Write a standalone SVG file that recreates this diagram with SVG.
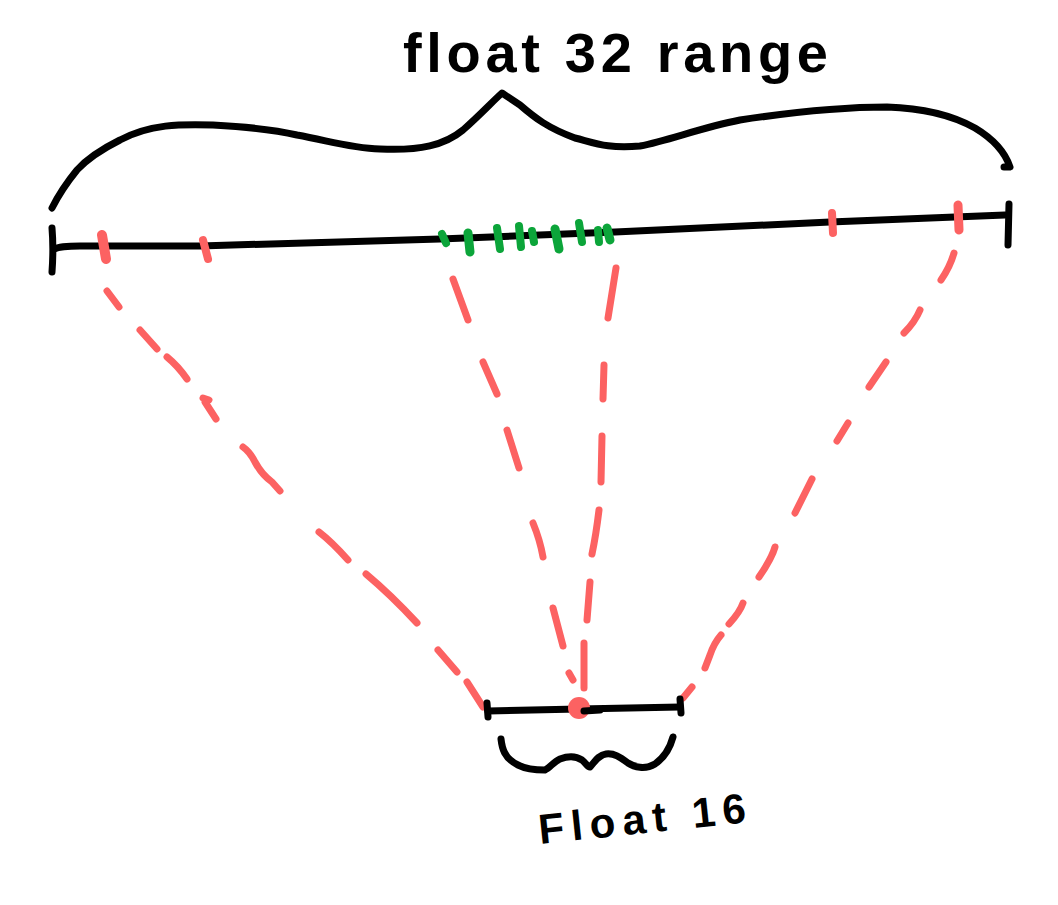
<svg xmlns="http://www.w3.org/2000/svg" width="1058" height="905" viewBox="0 0 1058 905">
<style>
.ink{fill:none;stroke:#000;stroke-width:7;stroke-linecap:round;stroke-linejoin:round}
.red{fill:none;stroke:#fc6262;stroke-width:7;stroke-linecap:round;stroke-linejoin:round}
.redtick{fill:none;stroke:#fc6262;stroke-width:10;stroke-linecap:round}
.grn{fill:none;stroke:#0ca53a;stroke-width:8;stroke-linecap:round}
.lbl{font-family:"Liberation Sans",Arial,sans-serif;font-weight:bold;fill:#000}
</style>
<rect width="1058" height="905" fill="#fff"/>

<g id="title">
<text class="lbl" x="403" y="72" font-size="56" textLength="425" lengthAdjust="spacing">float 32 range</text>
</g>

<g id="top-brace">
<path class="ink" d="M52,208 C58,196 64,186 77,170 C88,158 100,150 120,140 C150,124 180,124 213,125 C250,127 280,131 297,135 C330,141 350,148 380,149 C420,151 445,145 463,130 C480,115 492,102 502,93 L520,105 C535,118 548,128 575,138 C595,143 608,149 640,146 C670,140 700,128 740,120 C780,114 840,107 887,107 C920,108 950,114 975,128 C995,140 1005,152 1010,167 L1004,167"/>
</g>

<g id="main-line">
<path class="ink" d="M52,228 C53,240 53,258 52,272"/>
<path class="ink" d="M54,249 C60,246 70,246 80,246 L200,246 L440,239 L615,232 L830,222 L1005,215"/>
<path class="ink" d="M1009,204 L1008,245"/>
</g>

<g id="red-ticks">
<path class="redtick" d="M102,235 L106,259"/>
<path class="redtick" d="M203,240 L208,259" style="stroke-width:8"/>
<path class="redtick" d="M832,213 L833,233" style="stroke-width:8"/>
<path class="redtick" d="M958,205 L959,230" style="stroke-width:9"/>
</g>

<g id="green-ticks">
<path class="grn" d="M442,234 L446,243"/>
<path class="grn" d="M468,233 L470,252" style="stroke-width:9"/>
<path class="grn" d="M497,228 L500,249"/>
<path class="grn" d="M519,226 L521,247"/>
<path class="grn" d="M532,231 L534,242"/>
<path class="grn" d="M555,229 L559,249" style="stroke-width:9"/>
<path class="grn" d="M579,223 L582,242"/>
<path class="grn" d="M598,230 L599,242"/>
<path class="grn" d="M607,228 L610,240" style="stroke-width:9"/>
</g>

<g id="connectors">
<path class="red" d="M107,291 L119,307 M140,330 L157,349 M167,357 Q178,366 187,379 M203,398 L209,400 M205,402 L216,419 M243,447 Q250,452 255,462 Q262,475 272,482 L280,491 M319,532 Q332,542 348,560 M366,574 Q390,594 417,623 M438,650 L457,672 M467,682 L483,707"/>
<path class="red" d="M453,279 L468,320 M483,362 L497,394 M507,430 L519,468 M533,523 Q540,540 543,557 M553,608 L563,646 M569,673 L573,680"/>
<path class="red" d="M616,268 L608,318 M604,365 L603,399 M602,436 L601,482 M599,510 Q596,535 592,554 M590,582 L587,620 M584,643 L584,688"/>
<path class="red" d="M954,253 Q950,267 941,280 M920,310 Q915,322 904,333 M886,362 L869,387 M848,423 L837,441 M812,479 L795,513 M775,547 Q772,558 759,577 M743,603 Q740,612 729,624 M721,635 Q714,643 710,655 L705,668 M692,687 L683,698"/>
</g>

<g id="float16-line">
<path class="ink" d="M487,703 L488,717"/>
<path class="ink" d="M488,711 L579,709 L680,707"/>
<path class="ink" d="M680,699 L681,713"/>
<circle cx="579" cy="708" r="11" fill="#fc6262"/>
<path class="ink" d="M584,711 L600,710"/>
</g>

<g id="bottom-brace">
<path class="ink" d="M501,739 C502,748 504,758 518,765 C528,770 538,770 545,770 C550,768 553,762 560,759 C568,756 576,756 582,760 C586,763 588,768 590,767 C594,763 598,755 606,754 C614,753 620,757 628,763 C634,767 645,770 655,764 C665,757 670,748 673,737"/>
</g>

<g id="float16-label">
<text class="lbl" x="540" y="844" font-size="42" textLength="208" lengthAdjust="spacing" transform="rotate(-6 540 844)">Float 16</text>
</g>
</svg>
